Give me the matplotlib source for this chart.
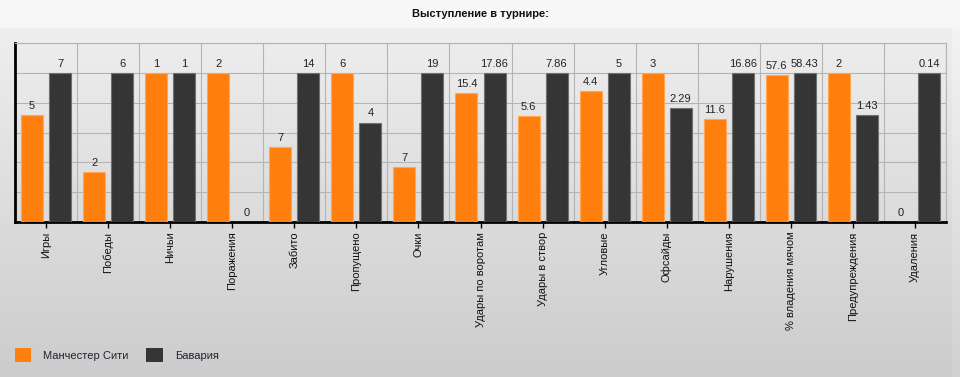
import numpy as np
import matplotlib.pyplot as plt
from matplotlib.patches import Patch

plt.rcParams['font.family'] = ['Liberation Sans', 'DejaVu Sans']

categories = ['Игры', 'Победы', 'Ничьи', 'Поражения', 'Забито', 'Пропущено', 'Очки',
              'Удары по воротам', 'Удары в створ', 'Угловые', 'Офсайды', 'Нарушения',
              '% владения мячом', 'Предупреждения', 'Удаления']
man_city = [5, 2, 1, 2, 7, 6, 7, 15.4, 5.6, 4.4, 3, 11.6, 57.6, 2, 0]
bayern = [7, 6, 1, 0, 14, 4, 19, 17.86, 7.86, 5, 2.29, 16.86, 58.43, 1.43, 0.14]
team_names = ['Манчестер Сити', 'Бавария']

ORANGE = '#ff7f0e'
DARK = '#353535'

W, H = 960, 377
fig = plt.figure(figsize=(W / 100, H / 100), dpi=100)


def px(x0, y0, x1, y1):
    # pixel box (top-left origin) -> figure fraction rect
    return [x0 / W, 1 - y1 / H, (x1 - x0) / W, (y1 - y0) / H]


# background: light title band, then a grey gradient
bg = fig.add_axes([0, 0, 1, 1], zorder=-10)
shade = np.empty(H)
shade[:28] = 0.972
shade[28:] = np.linspace(0.935, 0.80, H - 28)
img = np.repeat(shade[:, None], W, axis=1)
img[28:, 952:] = np.minimum(img[28:, 952:] + 0.02, 1)
bg.imshow(np.dstack([img] * 3), aspect='auto', extent=(0, W, H, 0))
bg.axis('off')

fig.text(480 / W, 1 - 14 / H, 'Выступление в турнире:', ha='center', va='center',
         fontsize=8, weight='bold', color='#111111')

# each pair is scaled so that the larger value reaches 1
mc = np.array(man_city, dtype=float)
by = np.array(bayern, dtype=float)
top = np.maximum(mc, by)
top[top == 0] = 1
h_mc = mc / top
h_by = by / top

ax = fig.add_axes(px(15, 43, 946, 222))
ax.set_facecolor('none')
x = np.arange(len(categories))
w = 22 / 62
off = 14 / 62
ax.bar(x - off, h_mc, w, color=ORANGE, edgecolor='#ffa657', linewidth=0.8, zorder=3)
ax.bar(x + off, h_by, w, color=DARK, edgecolor='#707070', linewidth=0.8, zorder=3)

for xi, hv, v in zip(x - off, h_mc, man_city):
    ax.annotate(f'{v:g}', (xi, hv), xytext=(0, 3), textcoords='offset points',
                ha='center', va='bottom', fontsize=8, color='#222222')
for xi, hv, v in zip(x + off, h_by, bayern):
    ax.annotate(f'{v:g}', (xi, hv), xytext=(0, 3), textcoords='offset points',
                ha='center', va='bottom', fontsize=8, color='#222222')

ax.set_xlim(-0.5, len(categories) - 0.5)
ax.set_ylim(0, 1.2)
ax.set_yticks(np.arange(0, 1.21, 0.2))
ax.set_yticklabels([])
ax.tick_params(axis='y', length=0)
ax.set_xticks(x)
ax.set_xticklabels(categories, rotation=90, fontsize=8, color='#111111')
ax.set_xticks(np.arange(len(categories) + 1) - 0.5, minor=True)
ax.tick_params(axis='x', which='major', length=4, width=1, pad=3)
ax.tick_params(axis='x', which='minor', length=0)
ax.grid(axis='y', color='#b4b4b4', linewidth=0.8, zorder=0)
ax.grid(axis='x', which='minor', color='#b4b4b4', linewidth=0.8, zorder=0)
ax.grid(axis='x', which='major', visible=False)
ax.set_axisbelow(True)
for s in ['left', 'bottom']:
    ax.spines[s].set_color('black')
    ax.spines[s].set_linewidth(2)
for s in ['top', 'right']:
    ax.spines[s].set_color('#b4b4b4')
    ax.spines[s].set_linewidth(0.8)

handles = [Patch(facecolor=ORANGE, edgecolor='none'), Patch(facecolor=DARK, edgecolor='none')]
fig.legend(handles, team_names, loc='center left', bbox_to_anchor=(15 / W, 1 - 355 / H),
           ncol=2, frameon=False, fontsize=8, handlelength=1.45, handleheight=1.45,
           handletextpad=1.1, columnspacing=1.6, borderpad=0, borderaxespad=0,
           labelcolor='#222233')

fig.savefig('out.png', dpi=100)
